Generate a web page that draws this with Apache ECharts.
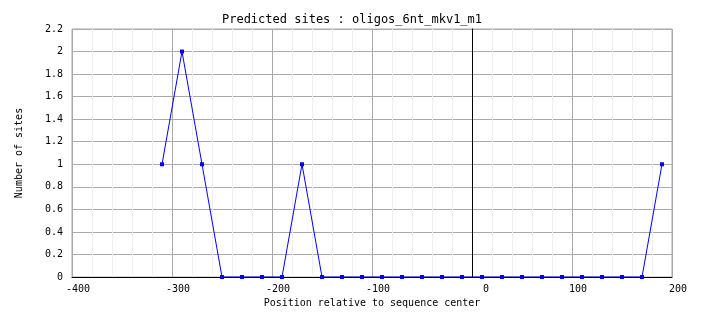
<!DOCTYPE html>
<html><head><meta charset="utf-8">
<script src="https://cdn.jsdelivr.net/npm/echarts@6/dist/echarts.min.js"></script>
<style>html,body{margin:0;padding:0;background:#fff}#c{width:704px;height:328px}</style>
</head><body><div id="c"></div>
<script>
const positions = [-310,-290,-270,-250,-230,-210,-190,-170,-150,-130,-110,-90,-70,-50,-30,-10,10,30,50,70,90,110,130,150,170,190];
const sites = [1,2,1,0,0,0,0,1,0,0,0,0,0,0,0,0,0,0,0,0,0,0,0,0,0,1];
const titleText = 'Predicted sites : oligos_6nt_mkv1_m1';
const xName = 'Position relative to sequence center';
const yName = 'Number of sites';
const FONT = 'DejaVu Sans Mono';
const chart = echarts.init(document.getElementById('c'), null, {renderer:'canvas'});
chart.setOption({
  animation:false,
  backgroundColor:'#fff',
  title:{text:titleText,left:'center',top:9,textStyle:{fontFamily:FONT,fontSize:12,fontWeight:'normal',color:'#000'}},
  grid:{left:72,right:32,top:29,bottom:51,show:true,borderColor:'#aaaaaa',borderWidth:1},
  xAxis:{type:'value',min:-400,max:200,interval:100,
    name:xName,nameLocation:'middle',nameGap:20,
    nameTextStyle:{fontFamily:FONT,fontSize:10,color:'#000'},
    axisLine:{show:true,lineStyle:{color:'#000',width:1}},
    axisTick:{show:false},
    axisLabel:{fontFamily:FONT,fontSize:10,color:'#000',margin:7,padding:[0,0,0,12],
      formatter:v=>v===0?'{z|0}':String(v),
      rich:{z:{fontFamily:FONT,fontSize:10,color:'#000',padding:[0,0,0,16]}}},
    splitLine:{show:true,lineStyle:{color:'#aaaaaa',width:1}},
    minorTick:{show:false,splitNumber:5},
    minorSplitLine:{show:true,lineStyle:{color:'#eeeeee',width:1}}
  },
  yAxis:{type:'value',min:0,max:2.2,interval:0.2,
    name:yName,nameLocation:'middle',nameGap:48,nameRotate:90,
    nameTextStyle:{fontFamily:FONT,fontSize:10,color:'#000'},
    axisLine:{show:true,lineStyle:{color:'#000',width:1}},
    axisTick:{show:false},
    axisLabel:{fontFamily:FONT,fontSize:10,color:'#000',margin:9,
      formatter:v=>String(parseFloat(v.toFixed(1)))},
    splitLine:{show:true,lineStyle:{color:'#aaaaaa',width:1}}
  },
  series:[{type:'line',data:positions.map((p,i)=>[p,sites[i]]),
    symbol:'rect',symbolSize:4,showSymbol:true,
    lineStyle:{color:'#0000ff',width:1},itemStyle:{color:'#0000ff'},
    markLine:{silent:true,symbol:'none',label:{show:false},
      lineStyle:{color:'#000',width:1,type:'solid'},data:[{xAxis:0}]}
  }]
});
</script></body></html>
